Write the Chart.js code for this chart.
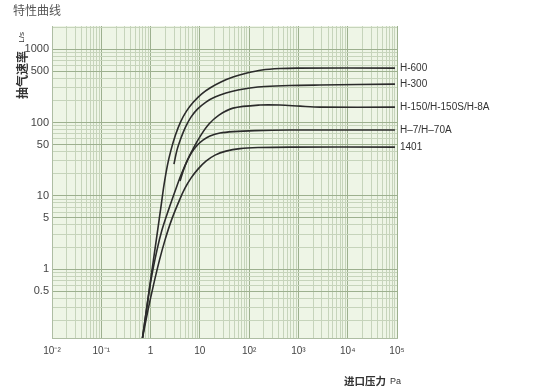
<!DOCTYPE html>
<html>
<head>
<meta charset="utf-8">
<script src="https://cdn.jsdelivr.net/npm/chart.js@4.4.0/dist/chart.umd.min.js"></script>
<style>
  html, body { margin: 0; padding: 0; background: #fff; }
</style>
</head>
<body>
<canvas id="curveChart" width="541" height="391"></canvas>
<script>
// inlet pressure (Pa) / pumping speed (L/s)
const h600Pressure = [0.685, 1.0, 1.305, 1.696, 1.87, 2.202, 2.594, 3.201, 4.044, 5.35, 7.42, 10.78, 16.04, 26.8, 47, 90.3, 182, 422, 934, 90900];
const h600Speed    = [0.115, 0.708, 2.487, 8.74, 14.0, 26.2, 42.0, 67.3, 101.3, 143, 190, 244, 295, 356, 416, 472, 519, 544, 552, 552];

const h300Pressure = [2.984, 3.433, 4.139, 5.106, 6.6, 8.94, 13.3, 20.3, 33.9, 59.3, 104, 209, 673, 2734, 90900];
const h300Speed    = [27.1, 42.0, 61.3, 86.5, 118.5, 152, 190, 222, 252, 277, 295, 309, 319, 324, 334];

const h150Pressure = [0.685, 0.826, 1.019, 1.349, 1.703, 2.307, 3.201, 4.139, 5.606, 7.595, 10.53, 15.3, 24.42, 47, 166, 422, 1074, 2734, 90900];
const h150Speed    = [0.115, 0.276, 0.708, 1.816, 3.41, 6.38, 11.97, 19.2, 30.7, 46.2, 67.3, 95.1, 126, 157, 173, 173, 167, 162, 162];

const h7Pressure = [3.95, 4.651, 5.606, 6.918, 8.94, 11.56, 16.04, 25.6, 47, 131, 673, 90900];
const h7Speed    = [15.87, 22.4, 30.7, 39.5, 49.2, 57.5, 65.3, 71.7, 75.1, 77.5, 78.8, 78.8];

const m1401Pressure = [0.685, 0.886, 1.145, 1.515, 1.96, 2.655, 3.858, 4.99, 6.6, 9.16, 13.3, 20.3, 33.9, 65.1, 151, 673, 90900];
const m1401Speed    = [0.115, 0.276, 0.605, 1.327, 2.487, 4.66, 8.74, 12.7, 17.4, 23.1, 29.7, 35.9, 40.7, 44.0, 45.5, 46.2, 46.2];

const seriesNames = ['H-600', 'H-300', 'H-150/H-150S/H-8A', 'H–7/H–70A', '1401'];

const xDecades = [0.01, 0.1, 1, 10, 100, 1000, 10000, 100000];
const xTickLabels = ['10⁻²', '10⁻¹', '1', '10', '10²', '10³', '10⁴', '10⁵'];
const yTickValues = [0.5, 1, 5, 10, 50, 100, 500, 1000];
const yTickLabels = ['0.5', '1', '5', '10', '50', '100', '500', '1000'];

const Y_MIN = 0.115, Y_MAX = 2070;

const narrow = "'Liberation Sans Narrow', 'Arial Narrow', 'Liberation Sans', sans-serif";
const cjk = "'Noto Sans CJK SC', sans-serif";

// log paper lines: 1..9 in every decade
function logGrid(first, last, lo, hi) {
  const out = [];
  for (let d = first; d < last * 1.0001; d *= 10) {
    for (let m = 1; m <= 9; m++) {
      const v = +(m * d).toPrecision(3);
      if (v >= lo && v <= hi) out.push(v);
    }
  }
  return out;
}

function indexOfValue(list, v) {
  return list.findIndex(d => Math.abs(Math.log10(d) - Math.log10(v)) < 1e-6);
}

function toPoints(px, py) {
  return px.map((p, i) => ({ x: p, y: py[i] }));
}

const seriesData = [
  toPoints(h600Pressure, h600Speed),
  toPoints(h300Pressure, h300Speed),
  toPoints(h150Pressure, h150Speed),
  toPoints(h7Pressure, h7Speed),
  toPoints(m1401Pressure, m1401Speed)
];

// pale green paper behind the plot
const paperPlugin = {
  id: 'paper',
  beforeDraw(chart) {
    const { ctx, chartArea: a } = chart;
    ctx.save();
    ctx.fillStyle = '#eef5e6';
    ctx.fillRect(a.left, a.top, a.right - a.left, a.bottom - a.top);
    ctx.restore();
  }
};

// names at the right end of each curve, plus the sheet titles
const textPlugin = {
  id: 'sheetText',
  afterDatasetsDraw(chart) {
    const { ctx, chartArea: a } = chart;
    ctx.save();
    ctx.fillStyle = '#333';
    ctx.font = '10px ' + narrow;
    ctx.textAlign = 'left';
    ctx.textBaseline = 'middle';
    chart.data.datasets.forEach((ds, i) => {
      const meta = chart.getDatasetMeta(i);
      const last = meta.data[meta.data.length - 1];
      ctx.fillText(ds.label, last.x + 5, last.y);
    });

    // top-left caption
    ctx.fillStyle = '#555';
    ctx.font = '12px ' + cjk;
    ctx.fillText('特性曲线', 13, 10);

    // y axis title, rotated
    ctx.save();
    ctx.translate(22, 0);
    ctx.rotate(-Math.PI / 2);
    ctx.textAlign = 'right';
    ctx.fillStyle = '#333';
    ctx.font = '8px ' + narrow;
    ctx.fillText('L/s', -a.top - 6, 0);
    ctx.font = 'bold 12px ' + cjk;
    ctx.fillText('抽气速率', -a.top - 25, 0);
    ctx.restore();

    // x axis title
    ctx.textAlign = 'left';
    ctx.fillStyle = '#333';
    ctx.font = 'bold 10.5px ' + cjk;
    const titleX = 344;
    ctx.fillText('进口压力', titleX, a.bottom + 43);
    const w = ctx.measureText('进口压力').width;
    ctx.font = '9px ' + narrow;
    ctx.fillText('Pa', titleX + w + 4, a.bottom + 44);
    ctx.restore();
  }
};

const context = document.getElementById('curveChart').getContext('2d');
const curveChart = new Chart(context, {
  type: 'line',
  data: {
    datasets: seriesData.map((pts, i) => ({
      label: seriesNames[i],
      data: pts,
      borderColor: '#2b2b2b',
      borderWidth: 1.6,
      pointRadius: 0,
      fill: false,
      tension: 0.3
    }))
  },
  options: {
    responsive: false,
    animation: false,
    devicePixelRatio: 1,
    layout: { padding: { top: 26, right: 144, left: 0, bottom: 0 } },
    plugins: {
      legend: { display: false },
      tooltip: { enabled: false }
    },
    scales: {
      x: {
        type: 'logarithmic',
        min: 0.01,
        max: 100000,
        afterBuildTicks(scale) {
          scale.ticks = logGrid(0.01, 100000, 0.01, 100000).map(v => ({ value: v }));
        },
        afterFit(scale) { scale.height = 53; },
        grid: {
          drawTicks: false,
          color: c => (c.tick && indexOfValue(xDecades, c.tick.value) >= 0) ? '#9db08f' : '#c6d4bb',
          lineWidth: 1
        },
        border: { display: true, color: '#aebda3' },
        ticks: {
          autoSkip: false,
          maxRotation: 0,
          padding: 7,
          color: '#444',
          font: { family: narrow, size: 10 },
          callback(value) {
            const k = indexOfValue(xDecades, value);
            return k >= 0 ? xTickLabels[k] : '';
          }
        }
      },
      y: {
        type: 'logarithmic',
        min: Y_MIN,
        max: Y_MAX,
        afterBuildTicks(scale) {
          scale.ticks = logGrid(0.1, 1000, Y_MIN, Y_MAX).map(v => ({ value: v }));
        },
        afterFit(scale) { scale.width = 52; },
        grid: {
          drawTicks: false,
          color: c => (c.tick && indexOfValue(yTickValues, c.tick.value) >= 0) ? '#9db08f' : '#c6d4bb',
          lineWidth: 1
        },
        border: { display: true, color: '#aebda3' },
        ticks: {
          autoSkip: false,
          padding: 3,
          color: '#444',
          font: { family: narrow, size: 11 },
          callback(value) {
            const k = indexOfValue(yTickValues, value);
            return k >= 0 ? yTickLabels[k] : '';
          }
        }
      }
    }
  },
  plugins: [paperPlugin, textPlugin]
});
</script>
</body>
</html>
